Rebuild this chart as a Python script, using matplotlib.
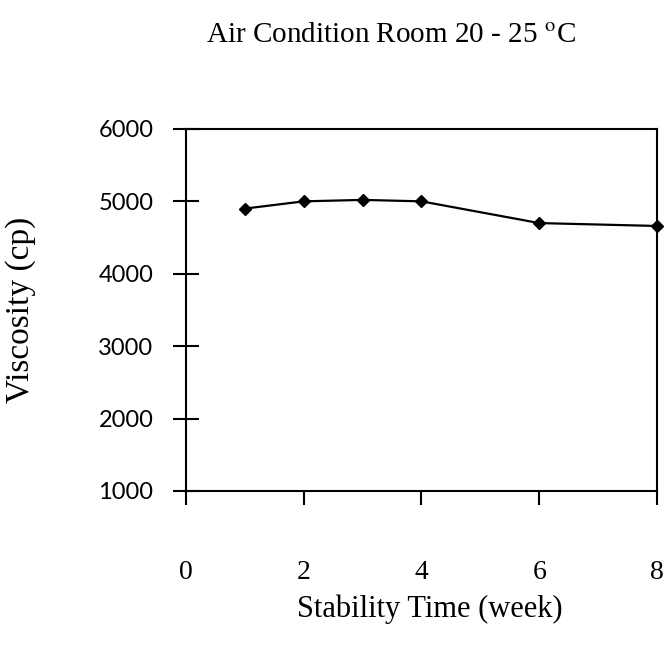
import matplotlib
matplotlib.use("Agg")
import matplotlib.pyplot as plt

# data
weeks = [1, 2, 3, 4, 6, 8]
viscosity = [4900, 5000, 5020, 5000, 4700, 4660]
x_ticks = [0, 2, 4, 6, 8]
y_ticks = [1000, 2000, 3000, 4000, 5000, 6000]

plt.rcParams['font.family'] = ['Liberation Serif', 'DejaVu Serif']
plt.rcParams['mathtext.fontset'] = 'stix'

fig = plt.figure(figsize=(6.69, 6.65), dpi=100)
ax = fig.add_axes([0.278, 0.2617, 0.704, 0.5444])

ax.plot(weeks, viscosity, color='black', linewidth=1.6,
        marker='D', markersize=6.5, clip_on=False, zorder=3)

ax.set_xlim(0, 8)
ax.set_ylim(1000, 6000)
ax.set_xticks(x_ticks)
ax.set_yticks(y_ticks)

for s in ax.spines.values():
    s.set_linewidth(1.5)

ax.tick_params(axis='x', direction='out', length=10, width=1.5, pad=40,
               labelsize=20)
ax.tick_params(axis='y', direction='inout', length=19, width=1.5, pad=14,
               labelsize=17)
for lab in ax.get_yticklabels():
    lab.set_family(['Lato', 'DejaVu Sans'])

ax.set_ylabel('Viscosity (cp)', fontsize=24)
ax.yaxis.set_label_coords(-0.318, 0.5)
ax.set_xlabel('Stability Time (week)', fontsize=22)
ax.xaxis.set_label_coords(0.518, -0.286)

fig.text(0.585, 0.948, 'Air Condition Room 20 - 25 $^{\\mathrm{o}}$C',
         ha='center', va='center', fontsize=21)

fig.savefig('out.png', dpi=100)
